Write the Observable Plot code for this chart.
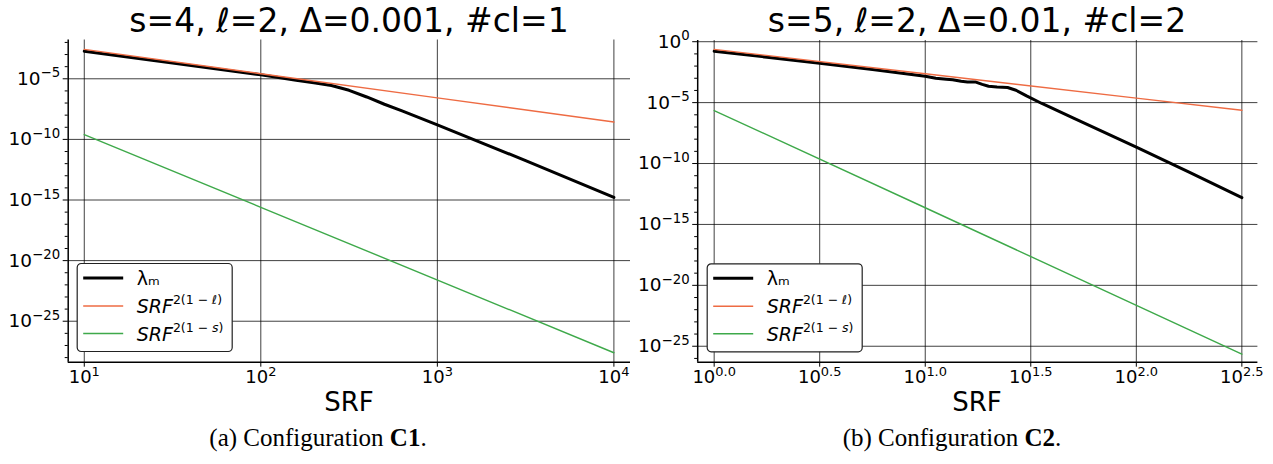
<!DOCTYPE html>
<html>
<head>
<meta charset="utf-8">
<script src="https://cdn.jsdelivr.net/npm/d3@7"></script>
<script src="https://cdn.jsdelivr.net/npm/@observablehq/plot@0.6"></script>
<style>
  html, body { margin: 0; padding: 0; background: #fff; }
  #fig { position: relative; width: 1273px; height: 464px; overflow: hidden; font-family: "DejaVu Sans", sans-serif; }
  #fig > svg.plot, #fig > figure { position: absolute; top: 0; margin: 0; }
  #overlay { position: absolute; left: 0; top: 0; pointer-events: none; }
</style>
</head>
<body>
<div id="fig"></div>
<script>
// ---------- Data (stored as log10 exponents) ----------
// Panel (a) configuration C1: s=4, l=2, Delta=0.001, #cl=1
const c1Title = "s=4, ℓ=2, Δ=0.001, #cl=1";
const c1LambdaLogSRF = [1.0, 1.5, 2.0, 2.2, 2.3, 2.4, 2.5, 2.6, 2.7, 2.8, 3.0, 3.5, 4.0];
const c1LambdaLogVal = [-2.72, -3.70, -4.67, -5.12, -5.33, -5.55, -5.95, -6.5, -7.1, -7.65, -8.8, -11.75, -14.78];
const c1OrangeLogSRF = [1, 2, 3, 4];
const c1OrangeLogVal = [-2.57, -4.58, -6.57, -8.57];
const c1GreenLogSRF = [1, 2, 4];
const c1GreenLogVal = [-9.6, -15.6, -27.6];
const c1XTickExp = [1, 2, 3, 4];
const c1XTickLabels = ["1", "2", "3", "4"];
const c1YTickExp = [-5, -10, -15, -20, -25];
const c1YTickLabels = ["−5", "−10", "−15", "−20", "−25"];

// Panel (b) configuration C2: s=5, l=2, Delta=0.01, #cl=2
const c2Title = "s=5, ℓ=2, Δ=0.01, #cl=2";
const c2LambdaLogSRF = [0, 0.25, 0.5, 0.75, 1.0, 1.05, 1.1, 1.13, 1.17, 1.2, 1.24, 1.27, 1.3, 1.34, 1.39, 1.43, 1.48, 1.55, 1.7, 2.0, 2.25, 2.5];
const c2LambdaLogVal = [-0.78, -1.27, -1.76, -2.28, -2.83, -3.0, -3.08, -3.12, -3.25, -3.3, -3.31, -3.5, -3.66, -3.72, -3.76, -3.98, -4.45, -5.05, -6.25, -8.65, -10.7, -12.8];
const c2OrangeLogSRF = [0, 1, 2, 2.5];
const c2OrangeLogVal = [-0.63, -2.63, -4.63, -5.63];
const c2GreenLogSRF = [0, 1, 2.5];
const c2GreenLogVal = [-5.65, -13.63, -25.65];
const c2XTickExp = [0, 0.5, 1, 1.5, 2, 2.5];
const c2XTickLabels = ["0.0", "0.5", "1.0", "1.5", "2.0", "2.5"];
const c2YTickExp = [0, -5, -10, -15, -20, -25];
const c2YTickLabels = ["0", "−5", "−10", "−15", "−20", "−25"];

const captions = ["Configuration", "Configuration"];
const captionTags = ["(a)", "(b)"];
const captionBold = ["C1", "C2"];

const seriesNames = ["λₘ", "SRF^2(1 − ℓ)", "SRF^2(1 − s)"];
const colors = { lambda: "#000000", orange: "#ee6b43", green: "#3ea94a" };

// ---------- helpers ----------
const pts = (xs, ys) => xs.map((e, i) => ({ x: Math.pow(10, e), y: Math.pow(10, ys[i]) }));
const labelFor = (exps, labels) => d => {
  const e = Math.log10(d);
  let best = 0;
  exps.forEach((v, i) => { if (Math.abs(v - e) < Math.abs(exps[best] - e)) best = i; });
  return "10^" + labels[best];
};

function panel(cfg) {
  const xmin = Math.pow(10, cfg.xDom[0]), xmax = Math.pow(10, cfg.xDom[1]);
  const ymin = Math.pow(10, cfg.yDom[0]), ymax = Math.pow(10, cfg.yDom[1]);
  const xTicks = cfg.xTickExp.map(e => Math.pow(10, e));
  const yTicks = cfg.yTickExp.map(e => Math.pow(10, e));
  const yMinor = d3.range(Math.ceil(cfg.yDom[0]), Math.floor(cfg.yDom[1]) + 1)
    .filter(e => !cfg.yTickExp.includes(e)).map(e => Math.pow(10, e));
  const gridStyle = { stroke: "#000", strokeOpacity: 0.75, strokeWidth: 1 };
  const svg = Plot.plot({
    width: cfg.width,
    height: cfg.height,
    marginLeft: cfg.marginLeft,
    marginRight: cfg.marginRight,
    marginTop: cfg.marginTop,
    marginBottom: cfg.height - cfg.bottom,
    x: { type: "log", domain: [xmin, xmax] },
    y: { type: "log", domain: [ymin, ymax] },
    style: { fontFamily: "DejaVu Sans", background: "transparent", color: "#000", overflow: "visible" },
    marks: [
      Plot.gridX(xTicks, gridStyle),
      Plot.gridY(yTicks, gridStyle),
      Plot.line(pts(cfg.lambda[0], cfg.lambda[1]), { x: "x", y: "y", stroke: colors.lambda, strokeWidth: 3 }),
      Plot.line(pts(cfg.orange[0], cfg.orange[1]), { x: "x", y: "y", stroke: colors.orange, strokeWidth: 1.4 }),
      Plot.line(pts(cfg.green[0], cfg.green[1]), { x: "x", y: "y", stroke: colors.green, strokeWidth: 1.4 }),
      Plot.ruleX([xmin], { stroke: "#000", strokeWidth: 1.5 }),
      Plot.ruleY([ymin], { stroke: "#000", strokeWidth: 1.5 }),
      Plot.axisX(xTicks, { tickSize: 5, tickPadding: 3, fontSize: 18, tickFormat: labelFor(cfg.xTickExp, cfg.xTickLabels), label: null }),
      Plot.axisY(yTicks, { tickSize: 5, tickPadding: 3, fontSize: 18.5, tickFormat: labelFor(cfg.yTickExp, cfg.yTickLabels), label: null }),
      Plot.axisY(yMinor, { tickSize: 3, tickFormat: () => "", label: null })
    ]
  });
  // turn "10^e" tick labels into base + superscript
  d3.select(svg).selectAll("text").each(function () {
    const m = /^10\^(.+)$/.exec(this.textContent);
    if (!m) return;
    const t = d3.select(this);
    t.text(null);
    t.append("tspan").text("10");
    t.append("tspan").attr("dy", "-0.55em").attr("font-size", "0.72em").text(m[1]);
  });
  svg.classList.add("plot");
  svg.style.left = cfg.left + "px";
  return svg;
}

const fig = document.getElementById("fig");

fig.appendChild(panel({
  left: 0, width: 636, height: 420, marginLeft: 67.7, marginRight: 6, marginTop: 39.5, bottom: 361.7,
  xDom: [0.909, 4.094], yDom: [-28.38, -1.80],
  xTickExp: c1XTickExp, xTickLabels: c1XTickLabels, yTickExp: c1YTickExp, yTickLabels: c1YTickLabels,
  lambda: [c1LambdaLogSRF, c1LambdaLogVal], orange: [c1OrangeLogSRF, c1OrangeLogVal], green: [c1GreenLogSRF, c1GreenLogVal]
}));

fig.appendChild(panel({
  left: 636, width: 637, height: 420, marginLeft: 61.2, marginRight: 15.6, marginTop: 40, bottom: 361.7,
  xDom: [-0.078, 2.576], yDom: [-26.31, 0.1],
  xTickExp: c2XTickExp, xTickLabels: c2XTickLabels, yTickExp: c2YTickExp, yTickLabels: c2YTickLabels,
  lambda: [c2LambdaLogSRF, c2LambdaLogVal], orange: [c2OrangeLogSRF, c2OrangeLogVal], green: [c2GreenLogSRF, c2GreenLogVal]
}));

// ---------- overlay: titles, axis labels, legends, captions ----------
const ov = d3.select(fig).append("svg").attr("id", "overlay").attr("width", 1273).attr("height", 464)
  .attr("font-family", "DejaVu Sans");

const panels = [
  { cx: 349, title: c1Title, legend: [76.7, 263], capCx: 318 },
  { cx: 977, title: c2Title, legend: [706.7, 263.3], capCx: 952 }
];

panels.forEach((p, k) => {
  ov.append("text").attr("x", p.cx).attr("y", 32).attr("text-anchor", "middle")
    .attr("font-size", 33).text(p.title);
  ov.append("text").attr("x", p.cx).attr("y", 411).attr("text-anchor", "middle")
    .attr("font-size", 26).text("SRF");

  const g = ov.append("g").attr("transform", `translate(${p.legend[0]},${p.legend[1]})`);
  g.append("rect").attr("x", 0.5).attr("y", 0.5).attr("width", 155).attr("height", 88).attr("rx", 4)
    .attr("fill", "#fff").attr("stroke", "#222").attr("stroke-width", 1.2);
  const rows = [
    { y: 15, color: colors.lambda, w: 3 },
    { y: 43, color: colors.orange, w: 1.4 },
    { y: 70.5, color: colors.green, w: 1.4 }
  ];
  rows.forEach((r, i) => {
    g.append("line").attr("x1", 6.5).attr("x2", 46.5).attr("y1", r.y).attr("y2", r.y)
      .attr("stroke", r.color).attr("stroke-width", r.w);
    const name = seriesNames[i];
    const t = g.append("text").attr("x", 60).attr("y", r.y + 7).attr("font-size", 19);
    if (name.includes("^")) {
      const [base, sup] = name.split("^");
      t.append("tspan").attr("font-style", "italic").text(base);
      const s = t.append("tspan").attr("dy", -9).attr("font-size", 12.5);
      const last = sup.slice(-2, -1);
      s.append("tspan").text(sup.slice(0, -2));
      s.append("tspan").attr("font-style", "italic").text(last);
      s.append("tspan").text(")");
    } else {
      t.text(name);
    }
  });

  const c = ov.append("text").attr("x", p.capCx).attr("y", 446).attr("text-anchor", "middle")
    .attr("font-family", "Liberation Serif").attr("font-size", 25);
  c.append("tspan").text(captionTags[k] + " " + captions[k] + " ");
  c.append("tspan").attr("font-weight", "bold").text(captionBold[k]);
  c.append("tspan").text(".");
});
</script>
</body>
</html>
